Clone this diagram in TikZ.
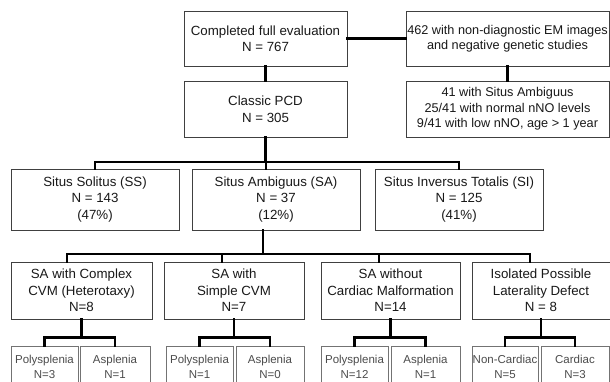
\documentclass[tikz,border=0pt]{standalone}
\usepackage{fontspec}
\setmainfont{Liberation Sans}

\begin{document}
\begin{tikzpicture}[
    x=1pt, y=-1pt,
    % Common Styles
    box/.style={
        draw=black!75,
        line width=0.9pt,
        fill=white,
        align=center,
        inner sep=0pt,
        text=black!90,
        font=\fontsize{13.3}{16.5}\selectfont
    },
    side_box/.style={
        box,
        font=\fontsize{12.7}{15.5}\selectfont
    },
    split_box/.style={
        box,
        draw=black!55,
        anchor=north,
        minimum height=40,
        text=black!70,
        font=\fontsize{11.5}{15}\selectfont
    },
    link/.style={
        black,
        line width=2.3pt,
        line cap=rect
    }
]

    \useasboundingbox (0,0) rectangle (610,381);
    \clip (0,0) rectangle (610,381);

    % ================= TOP LEVEL =================
    \node[box, minimum width=163, minimum height=55] (eval) at (265.5,38.5)
        {Completed full evaluation\\N = 767};
    \node[side_box, minimum width=203, minimum height=55] (nondiag) at (507.5,38.5)
        {462 with non-diagnostic EM images\\and negative genetic studies};

    \node[box, minimum width=163, minimum height=56] (pcd) at (265.5,109)
        {Classic PCD\\N = 305};
    \node[side_box, minimum width=203, minimum height=56] (ambig41) at (507.5,109)
        {41 with Situs Ambiguus\\25/41 with normal nNO levels\\9/41 with low nNO, age > 1 year};

    \draw[link] (eval) -- (nondiag);
    \draw[link] (eval) -- (pcd);
    \draw[link] (nondiag) -- (ambig41);

    % ================= SITUS =================
    \node[box, minimum width=168, minimum height=61] (ss) at (95,199.5)
        {Situs Solitus (SS)\\N = 143\\(47\%)};
    \node[box, minimum width=168, minimum height=61] (sa) at (276,199.5)
        {Situs Ambiguus (SA)\\N = 37\\(12\%)};
    \node[box, minimum width=168, minimum height=61] (si) at (459,199.5)
        {Situs Inversus Totalis (SI)\\N = 125\\(41\%)};

    % Branch point under Classic PCD
    \coordinate (hub1) at (266,162);
    \draw[link] (pcd.south) -- (pcd.south |- hub1);
    \draw[link] (ss.north) |- (hub1) -| (si.north);
    \draw[link] (hub1) -- (hub1 |- sa.north);

    % ================= SA SUBGROUPS =================
    \node[box, minimum width=141, minimum height=57] (cplx) at (81.5,290.5)
        {SA with Complex\\CVM (Heterotaxy)\\N=8};
    \node[box, minimum width=140, minimum height=57] (simp) at (234,290.5)
        {SA with\\Simple CVM\\N=7};
    \node[box, minimum width=139, minimum height=57] (nocard) at (390.5,290.5)
        {SA without\\Cardiac Malformation\\N=14};
    \node[box, minimum width=138, minimum height=57] (iso) at (541,290.5)
        {Isolated Possible\\Laterality Defect\\N = 8};

    % Drop points on the bar
    \coordinate (hub2) at (263,254);
    \coordinate (d1) at (67,254);
    \coordinate (d2) at (222,254);
    \coordinate (d3) at (379,254);
    \coordinate (d4) at (530,254);

    \draw[link] (hub2 |- sa.south) -- (hub2);
    \draw[link] (d1) -- (d4);
    \foreach \d/\b in {d1/cplx, d2/simp, d3/nocard, d4/iso} {
        \draw[link] (\d) -- (\d |- \b.north);
    }

    % ================= SPLITS =================
    \node[split_box, minimum width=67] (pa) at (44.5,346) {Polysplenia\\N=3};
    \node[split_box, minimum width=70] (pb) at (115,346) {Asplenia\\N=1};
    \node[split_box, minimum width=67] (pc) at (199.5,346) {Polysplenia\\N=1};
    \node[split_box, minimum width=68] (pd) at (270,346) {Asplenia\\N=0};
    \node[split_box, minimum width=67] (pe) at (354.5,346) {Polysplenia\\N=12};
    \node[split_box, minimum width=69] (pf) at (425.5,346) {Asplenia\\N=1};
    \node[split_box, minimum width=66] (pg) at (505,346) {Non-Cardiac\\N=5};
    \node[split_box, minimum width=68] (ph) at (575,346) {Cardiac\\N=3};

    \foreach \p/\l/\r in {cplx/pa/pb, simp/pc/pd, nocard/pe/pf, iso/pg/ph} {
        \path (\p.south) ++(0,18) coordinate (j\p);
        \draw[link] (\p.south) -- (j\p);
        \draw[link] (\l.north) |- (j\p) -| (\r.north);
    }

\end{tikzpicture}
\end{document}
